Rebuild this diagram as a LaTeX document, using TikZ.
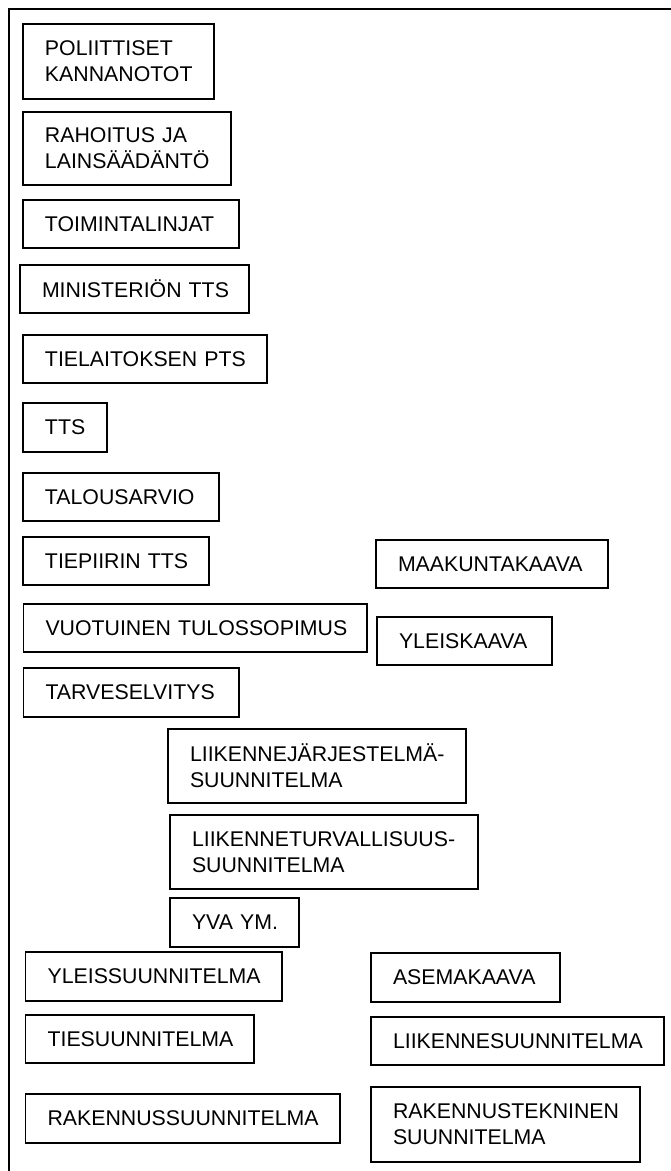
\documentclass[tikz,border=0pt]{standalone}
\usepackage{fontspec}
\setmainfont{Liberation Sans}
\hfuzz=30pt
\hbadness=10000
\hyphenpenalty=10000
\exhyphenpenalty=10000
\tikzset{
  bx/.style={draw, line width=1.6pt, inner xsep=22pt, inner ysep=0pt, align=left,
    font=\fontsize{21.3}{25.7}\selectfont, anchor=center},
  frameline/.style={line width=2pt}
}
\newcommand\bxnode[6]{%
  \pgfmathsetmacro\bw{#4-#2}%
  \pgfmathsetmacro\bh{#5-#3}%
  \pgfmathsetmacro\tw{#4-#2-44}%
  \node[bx, minimum width=\bw pt, minimum height=\bh pt, text width=\tw pt] (#1) at ({(#2+#4)/2},{(#3+#5)/2}) {\hyphenpenalty=10000\exhyphenpenalty=10000 #6};}
\begin{document}
\begin{tikzpicture}[x=1pt,y=-1pt]
\useasboundingbox (0,0) rectangle (671,1171);
\coordinate (fbl) at (8.5,1171);
\coordinate (ftl) at (8.5,8.5);
\coordinate (ftr) at (671,8.5);
\draw[frameline] (fbl) -- (ftl) -- (ftr);
\bxnode{pol}{23}{24}{214}{99}{POLIITTISET\\KANNANOTOT}
\bxnode{rah}{23}{112}{231}{185}{RAHOITUS~JA\\LAINSÄÄDÄNTÖ}
\bxnode{toi}{23}{200}{239}{248}{TOIMINTALINJAT}
\bxnode{min}{20}{265}{249}{313}{MINISTERIÖN~TTS}
\bxnode{tiel}{23}{335}{267}{383}{TIELAITOKSEN~PTS}
\bxnode{tts}{23}{403}{107}{452}{TTS}
\bxnode{tal}{23}{473}{219}{521}{TALOUSARVIO}
\bxnode{tiep}{23}{537}{209}{585}{TIEPIIRIN~TTS}
\bxnode{maak}{376}{540}{608}{588}{MAAKUNTAKAAVA}
\bxnode{vuo}{23.5}{604}{367}{652}{VUOTUINEN~TULOSSOPIMUS}
\bxnode{yleisk}{377}{617}{552}{665}{YLEISKAAVA}
\bxnode{tarv}{23.5}{668}{239}{717}{TARVESELVITYS}
\bxnode{ljs}{168}{729}{466}{803}{LIIKENNEJÄRJESTELMÄ-\\SUUNNITELMA}
\bxnode{lts}{170}{815}{478}{889}{LIIKENNETURVALLISUUS-\\SUUNNITELMA}
\bxnode{yva}{170}{898}{299}{947}{YVA~YM.}
\bxnode{yleiss}{25.6}{952}{282}{1001}{YLEISSUUNNITELMA}
\bxnode{asema}{371}{953}{560}{1002}{ASEMAKAAVA}
\bxnode{ties}{25.6}{1015}{254}{1063}{TIESUUNNITELMA}
\bxnode{liik}{371}{1017}{664}{1065}{LIIKENNESUUNNITELMA}
\bxnode{rak}{25.6}{1094}{340}{1143}{RAKENNUSSUUNNITELMA}
\bxnode{rakt}{371}{1087}{640}{1162}{RAKENNUSTEKNINEN\\SUUNNITELMA}
\end{tikzpicture}
\end{document}
